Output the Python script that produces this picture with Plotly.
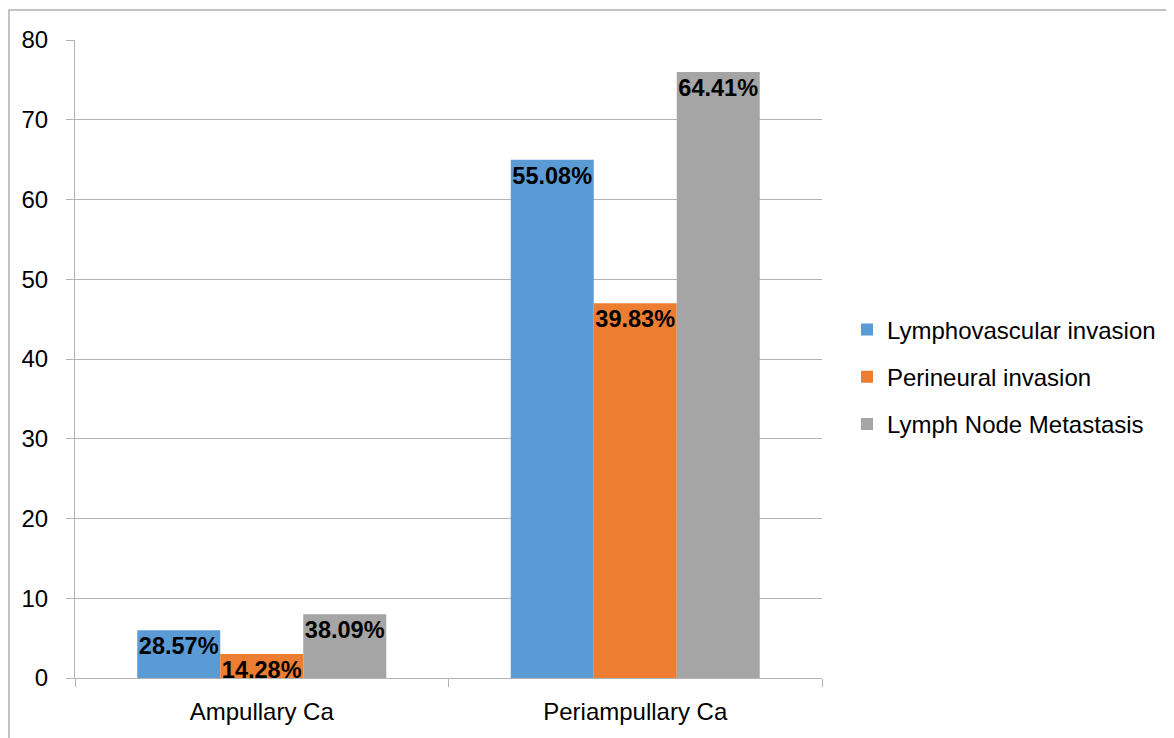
import plotly.graph_objects as go

categories = ["Ampullary Ca", "Periampullary Ca"]
series_names = ["Lymphovascular invasion", "Perineural invasion", "Lymph Node Metastasis"]
lymphovascular = [6, 65]
perineural = [3, 47]
lymph_node = [8, 76]
lymphovascular_labels = ["28.57%", "55.08%"]
perineural_labels = ["14.28%", "39.83%"]
lymph_node_labels = ["38.09%", "64.41%"]
y_ticks = [0, 10, 20, 30, 40, 50, 60, 70, 80]

colors = ["#5b9bd5", "#ed7d31", "#a5a5a5"]
FONT = "Liberation Sans"

W, H = 1166, 730  # page adds an 8px body margin

fig = go.Figure()
for i, (name, vals, labels) in enumerate(zip(
        series_names,
        [lymphovascular, perineural, lymph_node],
        [lymphovascular_labels, perineural_labels, lymph_node_labels])):
    fig.add_trace(go.Bar(
        x=categories, y=vals, name=name, text=labels,
        marker=dict(color=colors[i], line=dict(width=0)),
        textposition="inside", insidetextanchor="end", textangle=0,
        constraintext="none", cliponaxis=False,
        textfont=dict(family=FONT, size=23.5, color="black", weight="bold"),
        legendgroup=f"g{i}",
    ))

fig.update_layout(
    width=W, height=H,
    margin=dict(l=67, r=W - 814, t=32, b=H - 670),
    paper_bgcolor="white", plot_bgcolor="white",
    barmode="group", bargap=1/3, bargroupgap=0,
    font=dict(family=FONT, size=24, color="black"),
    legend=dict(
        xref="container", yref="container",
        x=839 / W, y=1 - 369 / H, xanchor="left", yanchor="middle",
        traceorder="grouped", tracegroupgap=13,
        font=dict(family=FONT, size=24, color="black"),
        bgcolor="rgba(0,0,0,0)",
    ),
    showlegend=True,
)
fig.update_yaxes(
    range=[0, 80], tickvals=y_ticks, showgrid=True, gridcolor="#b3b3b3", gridwidth=1,
    showline=True, linecolor="#b3b3b3", linewidth=1,
    ticks="outside", ticklen=8, tickcolor="#b3b3b3",
    ticklabelstandoff=13, zeroline=False,
    tickfont=dict(family=FONT, size=24, color="black"),
)
fig.update_xaxes(
    showline=True, linecolor="#b3b3b3", linewidth=1,
    ticks="outside", ticklen=8, tickcolor="#b3b3b3", tickson="boundaries",
    ticklabelstandoff=12,
    tickfont=dict(family=FONT, size=24, color="black"),
)
# outer chart border
fig.add_shape(type="rect", xref="paper", yref="paper",
              x0=(1 - 67) / 747, x1=(1185 - 67) / 747,
              y0=(670 - 760) / 638, y1=(670 - 2) / 638,
              line=dict(color="#b0b0b0", width=1.5), fillcolor="rgba(0,0,0,0)",
              layer="below")

fig.write_html("out.html")
